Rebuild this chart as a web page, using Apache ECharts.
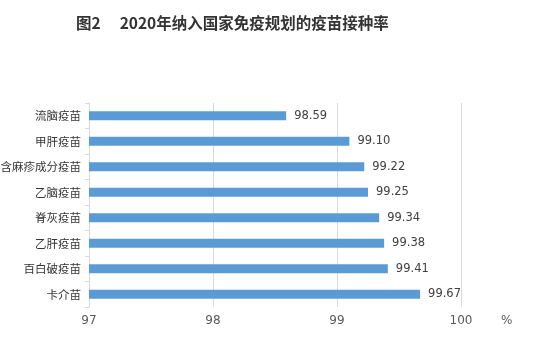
<!DOCTYPE html>
<html><head><meta charset="utf-8">
<script src="https://cdn.jsdelivr.net/npm/echarts@6/dist/echarts.min.js"></script>
<style>html,body{margin:0;padding:0;background:#fff}#c{width:551px;height:344px}</style>
</head><body><div id="c"></div>
<script>
const categories = ['卡介苗','百白破疫苗','乙肝疫苗','脊灰疫苗','乙脑疫苗','含麻疹成分疫苗','甲肝疫苗','流脑疫苗'];
const values = [99.67,99.41,99.38,99.34,99.25,99.22,99.10,98.59];
const xTicks = [97,98,99,100];
const chart = echarts.init(document.getElementById('c'), null, {renderer:'canvas'});
chart.setOption({
  animation:false,
  title:{text:'图2\u3000 2020年纳入国家免疫规划的疫苗接种率', left:71, top:10,
    textStyle:{fontFamily:'"Noto Sans CJK SC"', fontWeight:'bold', fontSize:15.5, color:'#333'}},
  grid:{left:89, right:90, top:103, bottom:37, outerBoundsMode:'none', containLabel:false},
  xAxis:{type:'value', min:xTicks[0], max:xTicks[xTicks.length-1], interval:1,
    axisLine:{show:false}, axisTick:{show:false},
    axisLabel:{fontFamily:'DejaVu Sans', fontSize:12, color:'#595959', margin:8},
    splitLine:{lineStyle:{color:'#d9d9d9', width:1}}},
  yAxis:{type:'category', data:categories,
    axisLine:{lineStyle:{color:'#d9d9d9'}},
    axisTick:{show:true, length:4, lineStyle:{color:'#d9d9d9'}},
    axisLabel:{fontFamily:'"Noto Sans CJK SC"', fontSize:11.5, color:'#333', margin:8}},
  series:[{type:'bar', data:values, barWidth:9,
    itemStyle:{color:'#5b9bd5'},
    label:{show:true, position:'right', distance:8, fontFamily:'DejaVu Sans', fontSize:11.5, color:'#404040',
      formatter:p=>p.value.toFixed(2)}}],
  graphic:[{type:'text', left:501, top:315, style:{text:'%', font:'12px DejaVu Sans', fill:'#595959'}}]
});
</script></body></html>
